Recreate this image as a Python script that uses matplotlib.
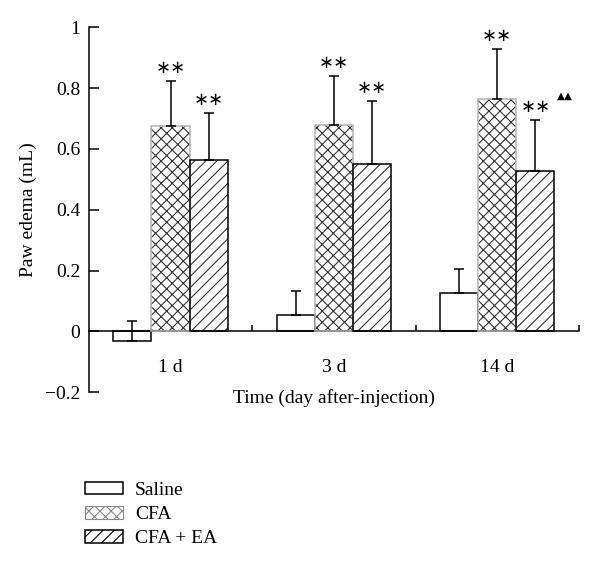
import matplotlib

matplotlib.use("Agg")
import matplotlib.pyplot as plt
import numpy as np
from matplotlib.patches import Patch

plt.rcParams["font.family"] = ["Liberation Serif", "DejaVu Serif"]
plt.rcParams["hatch.linewidth"] = 0.8

days = ["1 d", "3 d", "14 d"]
groups = ["Saline", "CFA", "CFA + EA"]
saline = [-0.033, 0.055, 0.127]
saline_err = [0.066, 0.077, 0.079]
cfa = [0.674, 0.678, 0.763]
cfa_err = [0.149, 0.163, 0.165]
ea = [0.565, 0.55, 0.528]
ea_err = [0.154, 0.208, 0.167]

fig = plt.figure(figsize=(6.0, 5.66), dpi=100)
ax = fig.add_axes([0.148, 0.307, 0.817, 0.645])

x = np.arange(len(days))
w = 0.233
offsets = [-w, 0, w]

for i in range(len(days)):
    # saline
    ax.bar(x[i] - w, saline[i], w, facecolor="white", edgecolor="black", linewidth=1.1, zorder=2)
    # CFA: dark hatch, light grey outline
    ax.bar(x[i], cfa[i], w, facecolor="white", edgecolor="#333333", hatch="xxx", linewidth=0, zorder=2)
    ax.bar(x[i], cfa[i], w, fill=False, edgecolor="#b5b5b5", linewidth=1.1, zorder=3)
    # CFA + EA
    ax.bar(x[i] + w, ea[i], w, facecolor="white", edgecolor="#333333", hatch="///", linewidth=0, zorder=2)
    ax.bar(x[i] + w, ea[i], w, fill=False, edgecolor="black", linewidth=1.1, zorder=3)

vals = [saline, cfa, ea]
errs = [saline_err, cfa_err, ea_err]
for k in range(3):
    ax.errorbar(x + offsets[k], vals[k], yerr=[np.zeros(3), errs[k]], fmt="none",
                ecolor="black", elinewidth=1.1, capsize=3.5, capthick=1.1, zorder=4)
    if k == 0:
        continue
    for i in range(3):
        ax.text(x[i] + offsets[k], vals[k][i] + errs[k][i] + 0.012, "∗∗", ha="center",
                va="bottom", fontsize=13, family=["DejaVu Sans"])

ax.text(x[2] + w + 0.18, ea[2] + ea_err[2] + 0.062, "▲▲", ha="center", va="bottom",
        fontsize=7.5, family=["DejaVu Sans"])

ax.set_xlim(-0.5, 2.5)
ax.set_ylim(-0.2, 1.0)
ax.set_yticks([-0.2, 0, 0.2, 0.4, 0.6, 0.8, 1.0])
ax.set_yticklabels(["\u22120.2", "0", "0.2", "0.4", "0.6", "0.8", "1"])
ax.set_xticks(x)
ax.set_xticklabels(days)
ax.set_xticks([0.5, 1.5, 2.5], minor=True)
ax.tick_params(axis="x", which="major", length=0, pad=20, labelsize=14)
ax.tick_params(axis="x", which="minor", direction="in", length=4, width=1.1)
ax.tick_params(axis="y", direction="in", length=7, width=1.1, pad=6, labelsize=14)
ax.spines["top"].set_visible(False)
ax.spines["right"].set_visible(False)
ax.spines["bottom"].set_position(("data", 0))
ax.spines["left"].set_linewidth(1.1)
ax.spines["bottom"].set_linewidth(1.1)
ax.set_ylabel("Paw edema (mL)", fontsize=14, labelpad=6)
ax.text(0.5, -0.016, "Time (day after-injection)", transform=ax.transAxes,
        ha="center", va="center", fontsize=14)

handles = [
    Patch(facecolor="white", edgecolor="black", linewidth=1.1),
    Patch(facecolor="white", edgecolor="#888888", hatch="xxx", linewidth=0.8),
    Patch(facecolor="white", edgecolor="black", hatch="///", linewidth=1.1),
]
fig.legend(handles, groups, loc="upper left", bbox_to_anchor=(0.142, 0.149), frameon=False,
           fontsize=14, handlelength=1.95, handleheight=0.62, handletextpad=0.6,
           labelspacing=0.37, borderaxespad=0, borderpad=0)

fig.savefig("out.png", dpi=100)
